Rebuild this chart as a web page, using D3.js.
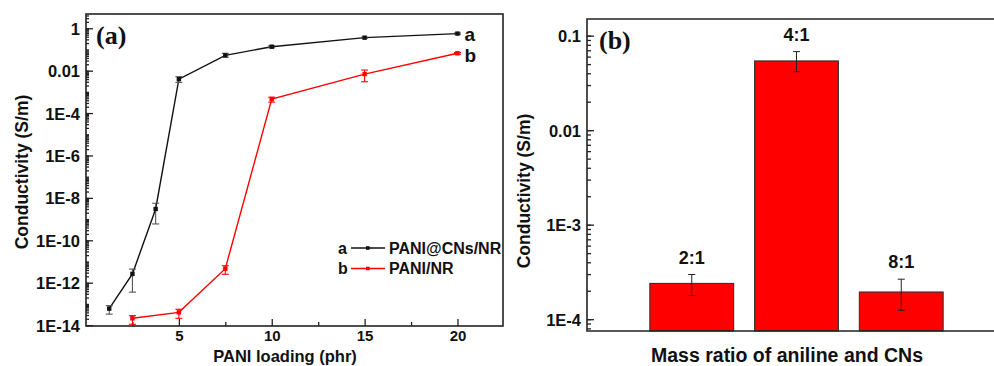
<!DOCTYPE html>
<html>
<head>
<meta charset="utf-8">
<title>Conductivity</title>
<script src="https://d3js.org/d3.v7.min.js"></script>
<style>
  body { margin: 0; background: #fff; }
  svg { display: block; }
  text { font-family: "Liberation Sans", Arial, sans-serif; font-weight: bold; fill: #111; }
  .serif { font-family: "Liberation Serif", "Times New Roman", serif; }
</style>
</head>
<body>
<svg width="994" height="366"></svg>
<script>
// ---- panel (a) data ----
const loadA = [1.25, 2.5, 3.75, 5, 7.5, 10, 15, 20];
const condA = [6e-14, 2.6e-12, 3e-9, 4e-3, 0.053, 0.135, 0.36, 0.56];
const hiA   = [8.3e-14, 4.4e-12, 5.6e-9, 5.2e-3, 0.066, 0.15, 0.38, 0.6];
const loA   = [3.3e-14, 3.6e-13, 5.9e-10, 2.8e-3, 0.043, 0.12, 0.34, 0.52];

const loadB = [2.5, 5, 7.5, 10, 15, 20];
const condB = [2.1e-14, 4e-14, 4.6e-12, 4.6e-4, 6.9e-3, 0.066];
const hiB   = [2.8e-14, 5.6e-14, 6.3e-12, 5.6e-4, 0.0107, 0.072];
const loB   = [1.1e-14, 2.1e-14, 2.5e-12, 3.3e-4, 3.0e-3, 0.06];

const xTicksA = [5, 10, 15, 20];
const xMinorA = [2.5, 7.5, 12.5, 17.5];
const yTicksA = [1, 1e-2, 1e-4, 1e-6, 1e-8, 1e-10, 1e-12, 1e-14];
const yLabelsA = ["1", "0.01", "1E-4", "1E-6", "1E-8", "1E-10", "1E-12", "1E-14"];
const seriesNames = ["PANI@CNs/NR", "PANI/NR"];
const seriesKeys = ["a", "b"];

// ---- panel (b) data ----
const ratios = ["2:1", "4:1", "8:1"];
const condR = [2.39e-4, 0.054, 1.94e-4];
const hiR   = [2.97e-4, 0.0678, 2.65e-4];
const loR   = [1.78e-4, 0.0416, 1.24e-4];
const yTicksB = [0.1, 0.01, 1e-3, 1e-4];
const yLabelsB = ["0.1", "0.01", "1E-3", "1E-4"];

const svg = d3.select("svg");
const frameColor = "#222";

// log minor ticks (2..9 inside each decade) clipped to domain
function logMinors(domain) {
  let out = [];
  let lo = Math.floor(Math.log10(domain[0])), hi = Math.ceil(Math.log10(domain[1]));
  for (let e = lo; e <= hi; e++) {
    for (let k = 1; k <= 9; k++) {
      let v = k * Math.pow(10, e);
      if (v >= domain[0] && v <= domain[1]) out.push(v);
    }
  }
  return out;
}

// ================= panel (a) =================
const L = 86, T = 14, R = 503, B = 326;
const x = d3.scaleLinear().domain([0, 22.45]).range([L, R]);
const y = d3.scaleLog().domain([9.1e-15, 4.7]).range([B, T]);

const ga = svg.append("g");

// minor ticks
ga.append("g").attr("transform", `translate(${L},0)`)
  .call(d3.axisLeft(y).tickValues(logMinors(y.domain())).tickSize(-3).tickFormat(""))
  .call(g => g.select(".domain").remove());
ga.append("g").attr("transform", `translate(0,${B})`)
  .call(d3.axisBottom(x).tickValues(xMinorA).tickSize(-4).tickFormat(""))
  .call(g => g.select(".domain").remove());

// major ticks
ga.append("g").attr("transform", `translate(${L},0)`)
  .call(d3.axisLeft(y).tickValues(yTicksA).tickSize(-7).tickPadding(6)
    .tickFormat((d, i) => yLabelsA[i]))
  .call(g => g.select(".domain").remove())
  .call(g => g.selectAll("text").style("font-size", "16.5px").style("font-family", null).attr("dy", "0.36em"));
ga.append("g").attr("transform", `translate(0,${B})`)
  .call(d3.axisBottom(x).tickValues(xTicksA).tickSize(-7).tickPadding(4))
  .call(g => g.select(".domain").remove())
  .call(g => g.selectAll("text").style("font-size", "15px").style("font-family", null));
ga.selectAll(".tick line").attr("stroke", frameColor).attr("stroke-width", 1.3);

ga.append("rect").attr("x", L).attr("y", T).attr("width", R - L).attr("height", B - T)
  .attr("fill", "none").attr("stroke", frameColor).attr("stroke-width", 1.6);

function drawSeries(g, xs, ys, hi, lo, color, errColor) {
  const line = d3.line().x((d, i) => x(xs[i])).y(d => y(d));
  g.append("path").datum(ys).attr("d", line)
    .attr("fill", "none").attr("stroke", color).attr("stroke-width", 1.4);
  xs.forEach((xv, i) => {
    const cx = x(xv);
    const y1 = y(Math.max(lo[i], y.domain()[0])), y2 = y(hi[i]);
    g.append("line").attr("x1", cx).attr("x2", cx).attr("y1", y1).attr("y2", y2)
      .attr("stroke", errColor).attr("stroke-width", 1.1);
    [y1, y2].forEach(yy => g.append("line").attr("x1", cx - 3.5).attr("x2", cx + 3.5)
      .attr("y1", yy).attr("y2", yy).attr("stroke", errColor).attr("stroke-width", 1.1));
  });
  g.selectAll(null).data(ys).enter().append("rect")
    .attr("x", (d, i) => x(xs[i]) - 2.2).attr("y", d => y(d) - 2.2)
    .attr("width", 4.4).attr("height", 4.4).attr("fill", color);
}

drawSeries(ga, loadA, condA, hiA, loA, "#111", "#555");
drawSeries(ga, loadB, condB, hiB, loB, "#ff0000", "#ff0000");

// end labels
ga.append("text").attr("x", x(20) + 7).attr("y", y(condA[7]) + 7).style("font-size", "19px").text(seriesKeys[0]);
ga.append("text").attr("x", x(20) + 7).attr("y", y(condB[5]) + 9).style("font-size", "19px").text(seriesKeys[1]);

// legend
const legColors = ["#111", "#ff0000"];
[0, 1].forEach(i => {
  const ly = 248 + i * 20.5;
  ga.append("text").attr("x", 338).attr("y", ly + 5.5).style("font-size", "16px").text(seriesKeys[i]);
  ga.append("line").attr("x1", 351).attr("x2", 385).attr("y1", ly).attr("y2", ly)
    .attr("stroke", legColors[i]).attr("stroke-width", 1.4);
  ga.append("rect").attr("x", 366).attr("y", ly - 1.8).attr("width", 3.6).attr("height", 3.6).attr("fill", legColors[i]);
  ga.append("text").attr("x", 389).attr("y", ly + 5.5).style("font-size", "16px").text(seriesNames[i]);
});

ga.append("text").attr("class", "serif").attr("x", 96).attr("y", 44).style("font-size", "26px").text("(a)");

ga.append("text").attr("transform", "translate(28,172) rotate(-90)")
  .attr("text-anchor", "middle").style("font-size", "17.5px").text("Conductivity (S/m)");
ga.append("text").attr("x", 285).attr("y", 362).attr("text-anchor", "middle")
  .style("font-size", "16.5px").text("PANI loading (phr)");

// ================= panel (b) =================
const L2 = 587, T2 = 19, B2 = 331, R2 = 1006;
const xb = d3.scaleLinear().domain([0, 4]).range([L2, R2]);
const yb = d3.scaleLog().domain([7.5e-5, 0.15]).range([B2, T2]);
const gb = svg.append("g");

gb.append("g").attr("transform", `translate(${L2},0)`)
  .call(d3.axisLeft(yb).tickValues(logMinors(yb.domain())).tickSize(-4).tickFormat(""))
  .call(g => g.select(".domain").remove());
gb.append("g").attr("transform", `translate(${L2},0)`)
  .call(d3.axisLeft(yb).tickValues(yTicksB).tickSize(-7).tickPadding(6)
    .tickFormat((d, i) => yLabelsB[i]))
  .call(g => g.select(".domain").remove())
  .call(g => g.selectAll("text").style("font-size", "16.5px").style("font-family", null).attr("dy", "0.36em"));
gb.selectAll(".tick line").attr("stroke", frameColor).attr("stroke-width", 1.3);

const barW = 0.8;
gb.selectAll(".bar").data(condR).enter().append("rect").attr("class", "bar")
  .attr("x", (d, i) => xb(i + 1 - barW / 2))
  .attr("width", xb(barW) - xb(0))
  .attr("y", d => yb(d))
  .attr("height", d => B2 - yb(d))
  .attr("fill", "#ff0000").attr("stroke", "#333").attr("stroke-width", 1.1);

condR.forEach((d, i) => {
  const cx = xb(i + 1), y1 = yb(loR[i]), y2 = yb(hiR[i]);
  gb.append("line").attr("x1", cx).attr("x2", cx).attr("y1", y1).attr("y2", y2)
    .attr("stroke", "#222").attr("stroke-width", 1);
  [y1, y2].forEach(yy => gb.append("line").attr("x1", cx - 3.5).attr("x2", cx + 3.5)
    .attr("y1", yy).attr("y2", yy).attr("stroke", "#222").attr("stroke-width", 1));
  gb.append("text").attr("x", cx).attr("y", y2 - 11).attr("text-anchor", "middle")
    .style("font-size", "18px").text(ratios[i]);
});

gb.append("path")
  .attr("d", `M${L2},${B2}V${T2}H${R2}V${B2}H${L2}Z`)
  .attr("fill", "none").attr("stroke", frameColor).attr("stroke-width", 1.6);

gb.append("text").attr("class", "serif").attr("x", 599).attr("y", 49).style("font-size", "26px").text("(b)");
gb.append("text").attr("transform", "translate(530,191) rotate(-90)")
  .attr("text-anchor", "middle").style("font-size", "17.5px").text("Conductivity (S/m)");
gb.append("text").attr("x", 787).attr("y", 362).attr("text-anchor", "middle")
  .style("font-size", "19.5px").text("Mass ratio of aniline and CNs");
</script>
</body>
</html>
